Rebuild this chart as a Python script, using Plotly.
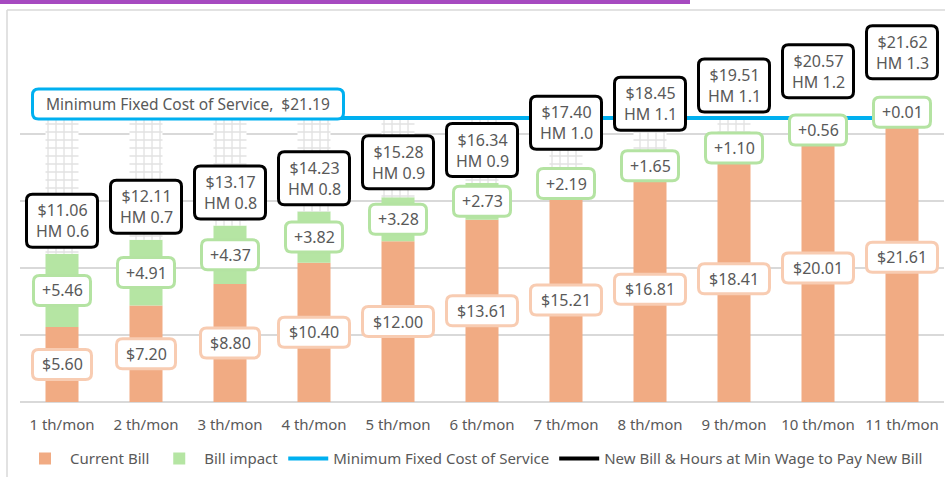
import plotly.graph_objects as go

categories = ["1 th/mon", "2 th/mon", "3 th/mon", "4 th/mon", "5 th/mon", "6 th/mon",
              "7 th/mon", "8 th/mon", "9 th/mon", "10 th/mon", "11 th/mon"]
current_bill = [5.60, 7.20, 8.80, 10.40, 12.00, 13.61, 15.21, 16.81, 18.41, 20.01, 21.61]
bill_impact = [5.46, 4.91, 4.37, 3.82, 3.28, 2.73, 2.19, 1.65, 1.10, 0.56, 0.01]
new_bill = [11.06, 12.11, 13.17, 14.23, 15.28, 16.34, 17.40, 18.45, 19.51, 20.57, 21.62]
hours_min_wage = [0.6, 0.7, 0.8, 0.8, 0.9, 0.9, 1.0, 1.1, 1.1, 1.2, 1.3]
min_fixed_cost = 21.19
y_ticks = [0, 5, 10, 15, 20]

# styling: pixel lift of the "New Bill" label boxes above their points
label_lift = [5, 5, 5, 5, 7, 5, 18, 23, 27, 27, 32]

ORANGE = "#F1AB83"
GREEN = "#B5E5A3"
ORANGE_BORDER = "#F8CCB2"
GREEN_BORDER = "#B4E3A2"
BLUE = "#00B0F0"
TXT = "#595959"
FONT = "Noto Sans"
FS = 16

PLOT_H = 402.0  # plot area height in px (top margin 0)
PLOT_W = 924.0

gap_to_min = [round(min_fixed_cost - n, 2) for n in new_bill]


def rrect(x0, x1, y0, y1, r=6):
    return (f"M {x0+r},{y0} L {x1-r},{y0} Q {x1},{y0} {x1},{y0+r} "
            f"L {x1},{y1-r} Q {x1},{y1} {x1-r},{y1} L {x0+r},{y1} "
            f"Q {x0},{y1} {x0},{y1-r} L {x0},{y0+r} Q {x0},{y0} {x0+r},{y0} Z")


def box_shape(xi, yv, w, h, color, cy=0, cx=0, lw=3):
    return dict(type="path", xref="x", yref="y", xsizemode="pixel", ysizemode="pixel",
                xanchor=xi, yanchor=yv,
                path=rrect(cx - w / 2, cx + w / 2, cy - h / 2, cy + h / 2),
                fillcolor="white", line=dict(color=color, width=lw), layer="above")


fig = go.Figure()
fig.add_trace(go.Bar(x=categories, y=current_bill, name="Current Bill",
                     marker=dict(color=ORANGE, line=dict(width=0))))
fig.add_trace(go.Bar(x=categories, y=bill_impact, name="Bill impact",
                     marker=dict(color=GREEN, line=dict(width=0))))
fig.add_trace(go.Bar(x=categories, y=gap_to_min, name="gap", showlegend=False,
                     marker=dict(color="white", line=dict(width=0),
                                 pattern=dict(shape="+", fgcolor="#C4C4C4", bgcolor="white",
                                              size=8, solidity=0.3))))
fig.add_trace(go.Scatter(x=categories, y=[min_fixed_cost] * len(categories), mode="lines",
                         name="Minimum Fixed Cost of Service",
                         line=dict(color=BLUE, width=4)))
fig.add_trace(go.Scatter(x=[None], y=[None], mode="lines",
                         name="New Bill & Hours at Min Wage to Pay New Bill",
                         line=dict(color="black", width=4)))

ann = []
shapes = []
for i, c in enumerate(categories):
    t1 = f"${current_bill[i]:.2f}"
    y1 = current_bill[i] / 2
    shapes.append(box_shape(i, y1, 12 * len(t1) - 1, 30, ORANGE_BORDER))
    ann.append(dict(x=i, y=y1, text=t1, showarrow=False,
                    font=dict(size=FS, color=TXT, family=FONT)))

    t2 = f"+{bill_impact[i]:.2f}"
    y2 = current_bill[i] + bill_impact[i] / 2
    shapes.append(box_shape(i, y2, 12 * len(t2) - 3, 30, GREEN_BORDER))
    ann.append(dict(x=i, y=y2, text=t2, showarrow=False,
                    font=dict(size=FS, color=TXT, family=FONT)))

    l1 = f"${new_bill[i]:.2f}"
    l2 = f"HM {hours_min_wage[i]:.1f}"
    w3 = 12 * max(len(l1), len(l2)) - 1
    cy = label_lift[i] + 28
    shapes.append(box_shape(i, new_bill[i], w3, 53, "black", cy=cy))
    ann.append(dict(x=i, y=new_bill[i], yshift=cy, text=f"{l1}<br>{l2}", showarrow=False,
                    font=dict(size=FS, color=TXT, family=FONT)))

shapes.append(box_shape(0, min_fixed_cost, 311, 30, BLUE, cy=14, cx=126))
ann.append(dict(x=0, y=min_fixed_cost, xshift=126, yshift=14,
                text=f"Minimum Fixed Cost of Service,  ${min_fixed_cost:.2f}", showarrow=False,
                font=dict(size=15.5, color=TXT, family=FONT)))

# chart-area border (left and top edges) and the purple strip at the top edge
border_top = (PLOT_H - 10) / PLOT_H
border_left = -13 / PLOT_W
shapes.insert(0, dict(type="line", xref="paper", yref="paper",
                      x0=border_left, x1=1.05, y0=border_top, y1=border_top,
                      line=dict(color="#D9D9D9", width=1.5), layer="below"))
shapes.insert(0, dict(type="line", xref="paper", yref="paper",
                      x0=border_left, x1=border_left, y0=-0.25, y1=border_top,
                      line=dict(color="#D9D9D9", width=1.5), layer="below"))
shapes.append(dict(type="line", xref="paper", yref="paper",
                   x0=-20 / PLOT_W, x1=(690 - 20) / PLOT_W,
                   y0=(PLOT_H - 2) / PLOT_H, y1=(PLOT_H - 2) / PLOT_H,
                   line=dict(color="#A64AC0", width=4)))

fig.update_layout(
    width=945, height=477,
    barmode="relative", bargap=0.607,
    plot_bgcolor="white", paper_bgcolor="white",
    margin=dict(l=20, r=1, t=0, b=75, autoexpand=False),
    font=dict(family=FONT, size=FS, color=TXT),
    xaxis=dict(range=[-0.5, 10.5], showgrid=False, showline=False, ticks="",
               ticklabelstandoff=12,
               tickfont=dict(size=15, color=TXT, family=FONT)),
    yaxis=dict(range=[0, 30], tickvals=y_ticks, showgrid=True, gridcolor="#D9D9D9",
               gridwidth=1.5, showticklabels=False, zeroline=True, zerolinecolor="#D9D9D9",
               zerolinewidth=2, fixedrange=True),
    legend=dict(orientation="h", x=0.0, xanchor="left", y=-0.1, yanchor="top",
                font=dict(size=15, color=TXT, family=FONT), itemwidth=40,
                traceorder="normal", bgcolor="rgba(0,0,0,0)"),
    annotations=ann,
    shapes=shapes,
    showlegend=True,
)

fig.write_html("out.html",
               post_script="document.body.style.margin='0px';document.body.style.overflow='hidden';",
               config={"displayModeBar": False})
